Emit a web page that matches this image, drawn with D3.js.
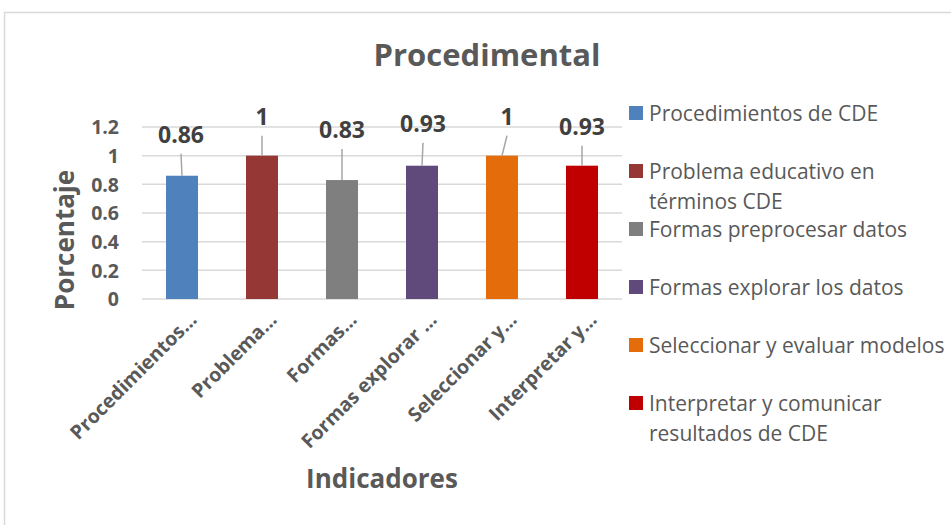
<!DOCTYPE html>
<html>
<head>
<meta charset="utf-8">
<script src="https://cdn.jsdelivr.net/npm/d3@7"></script>
<style>
  html, body { margin: 0; padding: 0; background: #fff; }
  svg { display: block; font-family: "Open Sans", "Noto Sans", sans-serif; }
</style>
</head>
<body>
<svg id="chart" width="951" height="525"></svg>
<script>
// Indicators and their scores
const categories = [
  "Procedimientos de CDE",
  "Problema educativo en términos CDE",
  "Formas preprocesar datos",
  "Formas explorar los datos",
  "Seleccionar y evaluar modelos",
  "Interpretar y comunicar resultados de CDE"
];
const axisLabels = [
  "Procedimientos…",
  "Problema…",
  "Formas…",
  "Formas explorar …",
  "Seleccionar y…",
  "Interpretar y…"
];
const legendLines = [
  ["Procedimientos de CDE"],
  ["Problema educativo en", "términos CDE"],
  ["Formas preprocesar datos"],
  ["Formas explorar los datos"],
  ["Seleccionar y evaluar modelos"],
  ["Interpretar y comunicar", "resultados de CDE"]
];
const values = [0.86, 1, 0.83, 0.93, 1, 0.93];
const yTicks = [0, 0.2, 0.4, 0.6, 0.8, 1, 1.2];

// Styling
const colors = ["#4f81bd", "#953735", "#7f7f7f", "#604a7b", "#e46c0a", "#c00000"];
// Hand-placed data label offsets (px) relative to each bar's top centre
const labelOffsets = [[-1, -41], [0, -39], [0, -50], [1, -42], [5, -39], [0, -39]];

const textColor = "#595959";
const gridColor = "#d9d9d9";

const svg = d3.select("#chart");

// Chart frame
svg.append("rect")
  .attr("x", 4.5).attr("y", 12.5)
  .attr("width", 960).attr("height", 530)
  .attr("fill", "#fff")
  .attr("stroke", "#d9d9d9")
  .attr("stroke-width", 1.5);

const plot = { left: 142, right: 622, top: 127, bottom: 299 };

const x = d3.scaleBand()
  .domain(categories)
  .range([plot.left, plot.right])
  .paddingInner(0.6)
  .paddingOuter(0.3);

const y = d3.scaleLinear()
  .domain([0, 1.2])
  .range([plot.bottom, plot.top]);

// Gridlines
svg.append("g")
  .selectAll("line")
  .data(yTicks)
  .join("line")
  .attr("x1", plot.left).attr("x2", plot.right)
  .attr("y1", d => y(d)).attr("y2", d => y(d))
  .attr("stroke", gridColor)
  .attr("stroke-width", 1.5);

// Y axis tick labels
const yAxis = d3.axisLeft(y).tickValues(yTicks).tickSize(0).tickPadding(0)
  .tickFormat(d => d3.format("~g")(d));
const gy = svg.append("g")
  .attr("transform", `translate(119,0)`)
  .call(yAxis);
gy.select(".domain").remove();
gy.selectAll("text")
  .attr("font-family", "'Open Sans', sans-serif")
  .attr("font-size", 19.5)
  .attr("font-weight", "bold")
  .attr("fill", textColor)
  .attr("dy", "0.35em");

// Bars
svg.append("g")
  .selectAll("rect")
  .data(values)
  .join("rect")
  .attr("x", (d, i) => x(categories[i]))
  .attr("y", d => y(d))
  .attr("width", x.bandwidth())
  .attr("height", d => y(0) - y(d))
  .attr("fill", (d, i) => colors[i]);

// Data labels with leader lines
const cx = i => x(categories[i]) + x.bandwidth() / 2;
const labels = svg.append("g");
values.forEach((v, i) => {
  const lx = cx(i) + labelOffsets[i][0];
  const ly = y(v) + labelOffsets[i][1];
  labels.append("line")
    .attr("x1", lx).attr("y1", ly + 19)
    .attr("x2", cx(i)).attr("y2", y(v))
    .attr("stroke", "#a6a6a6")
    .attr("stroke-width", 1.5);
  labels.append("text")
    .attr("x", lx).attr("y", ly)
    .attr("dy", "0.36em")
    .attr("text-anchor", "middle")
    .attr("font-size", 23)
    .attr("font-weight", "bold")
    .attr("fill", "#404040")
    .text(d3.format("~g")(v));
});

// X axis category labels (rotated)
svg.append("g")
  .selectAll("text")
  .data(axisLabels)
  .join("text")
  .attr("transform", (d, i) => `translate(${cx(i) + 16},${321}) rotate(-45)`)
  .attr("text-anchor", "end")
  .attr("font-size", 19.5)
  .attr("font-weight", "bold")
  .attr("fill", textColor)
  .text(d => d);

// Title
svg.append("text")
  .attr("x", 487).attr("y", 55)
  .attr("dy", "0.36em")
  .attr("text-anchor", "middle")
  .attr("font-size", 31)
  .attr("font-weight", "bold")
  .attr("fill", textColor)
  .text("Procedimental");

// Axis titles
svg.append("text")
  .attr("x", 382).attr("y", 479)
  .attr("dy", "0.36em")
  .attr("text-anchor", "middle")
  .attr("font-size", 26)
  .attr("font-weight", "bold")
  .attr("fill", textColor)
  .text("Indicadores");

svg.append("text")
  .attr("transform", "translate(65,240) rotate(-90)")
  .attr("dy", "0.36em")
  .attr("text-anchor", "middle")
  .attr("font-size", 26)
  .attr("font-weight", "bold")
  .attr("fill", textColor)
  .text("Porcentaje");

// Legend
const legend = svg.append("g");
legendLines.forEach((lines, i) => {
  const ly = 113 + i * 58;
  legend.append("rect")
    .attr("x", 629).attr("y", ly - 7)
    .attr("width", 14).attr("height", 14)
    .attr("fill", colors[i]);
  lines.forEach((t, j) => {
    legend.append("text")
      .attr("x", 649).attr("y", ly + j * 30)
      .attr("dy", "0.36em")
      .attr("font-size", 21)
      .attr("fill", textColor)
      .text(t);
  });
});
</script>
</body>
</html>
